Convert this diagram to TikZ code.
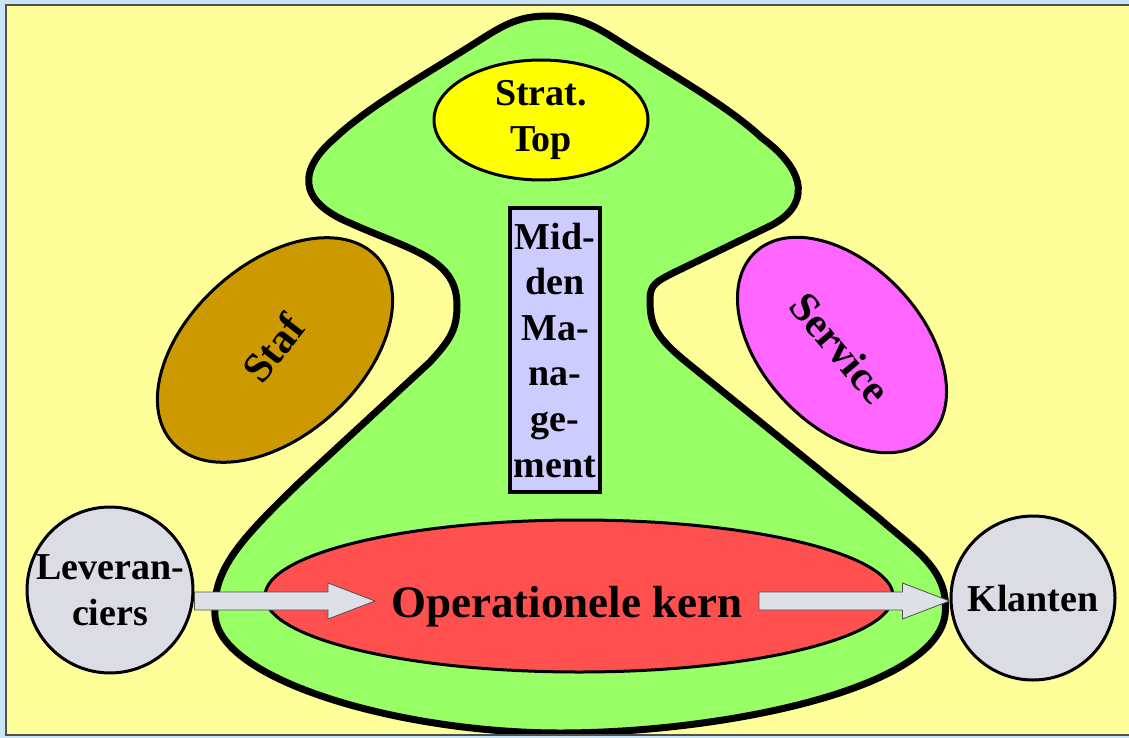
\documentclass[tikz,border=0pt]{standalone}
\usepackage{fontspec}
\setmainfont{Liberation Serif}
\usetikzlibrary{shapes.geometric,calc}

\definecolor{frameblue}{RGB}{200,228,245}
\definecolor{paper}{RGB}{255,255,153}
\definecolor{orgGreen}{RGB}{153,255,102}
\definecolor{coreRed}{RGB}{255,80,80}
\definecolor{topYellow}{RGB}{255,255,0}
\definecolor{stafBrown}{RGB}{204,153,0}
\definecolor{servicePink}{RGB}{255,102,255}
\definecolor{mmLavender}{RGB}{204,204,255}
\definecolor{envGrey}{RGB}{220,220,228}
\definecolor{arrowGrey}{RGB}{222,224,232}
\definecolor{frameline}{RGB}{80,80,80}

% block arrow drawn as a polygon from #1 to #2 (same height)
\newcommand{\blockarrow}[2]{%
  \draw[fatarrow] let \p1=(#1), \p2=(#2) in
    (\x1,\y1+9pt) -- (\x2-47pt,\y1+9pt) -- (\x2-47pt,\y1+18pt) -- (\x2,\y1)
    -- (\x2-47pt,\y1-18pt) -- (\x2-47pt,\y1-9pt) -- (\x1,\y1-9pt) -- cycle;}

\begin{document}
\begin{tikzpicture}[x=1pt,y=-1pt,
  lbl/.style={font=\bfseries\fontsize{38}{45.6}\selectfont, align=center, text=black, inner sep=1pt},
  biglbl/.style={lbl, font=\bfseries\fontsize{42}{50}\selectfont},
  part/.style={draw=black, line width=3pt},
  oval/.style={part, ellipse, inner sep=0pt},
  envcircle/.style={part, circle, fill=envGrey, minimum size=164pt, inner sep=0pt},
  fatarrow/.style={draw=frameline, line width=0.8pt, fill=arrowGrey},
  organisation/.style={draw=black, line width=7pt, fill=orgGreen, line join=round}]

\useasboundingbox (0,0) rectangle (1129,738);
\fill[frameblue] (0,0) rectangle (1129,738);
\fill[paper] (6,5) rectangle (1129,735);

% organisation body
\begin{scope}
\clip (6,5) rectangle (1129,735);
\draw[organisation] (548,16)
  .. controls (520,16) and (505,24) .. (480,40)
  .. controls (430,72) and (370,105) .. (335,138)
  .. controls (300,168) and (295,200) .. (350,223)
  .. controls (410,250) and (457,258) .. (457,305)
  .. controls (457,330) and (450,340) .. (430,362)
  -- (300,482)
  .. controls (240,540) and (212,570) .. (215,615)
  .. controls (218,680) and (400,733) .. (560,733)
  .. controls (720,733) and (935,690) .. (945,615)
  .. controls (950,570) and (915,550) .. (880,519)
  -- (690,365)
  .. controls (655,337) and (650,325) .. (650,300)
  .. controls (650,285) and (655,282) .. (675,272)
  -- (770,226)
  .. controls (810,206) and (808,172) .. (762,138)
  .. controls (727,105) and (667,72) .. (617,40)
  .. controls (592,24) and (575,16) .. (548,16)
  -- cycle;
\end{scope}

% parts of the organisation
\node[oval, fill=coreRed, minimum width=628pt, minimum height=152pt] (kern) at (579,596) {};
\node[oval, fill=topYellow, minimum width=214pt, minimum height=120pt, lbl] (top) at (541,120) {Strat.\\Top};
\node[draw=black, line width=3.5pt, fill=mmLavender, minimum width=90pt, minimum height=284pt,
      inner sep=0pt, lbl] (mm) at (555,350) {Mid-\\den\\Ma-\\na-\\ge-\\ment};
\node[oval, fill=stafBrown, minimum width=276pt, minimum height=172pt, rotate=42] (staf) at (275,350) {};
\node[biglbl, rotate=52] (staftext) at (273,348) {Staf};
\node[oval, fill=servicePink, minimum width=254pt, minimum height=160pt, rotate=-47] (service) at (842,345) {};
\node[biglbl, rotate=-50] (servicetext) at (840,348) {Service};

% environment
\node[envcircle, lbl, line width=3pt] (lev) at (110,590) {Leveran-\\ciers};
\node[envcircle, lbl, line width=3pt] (kl) at (1033,598) {Klanten};

\node[lbl, font=\bfseries\fontsize{45}{54}\selectfont, anchor=base] (kerntext) at (567,617) {Operationele kern};

% flow through the core
\coordinate (in) at (375,601);
\coordinate (out) at (759,601);
\blockarrow{lev.east |- in}{in}
\blockarrow{out}{kl.west |- out}

% frame
\draw[frameline, line width=2pt] (1129,5) -- (6,5) -- (6,735) -- (1129,735);
\end{tikzpicture}
\end{document}
